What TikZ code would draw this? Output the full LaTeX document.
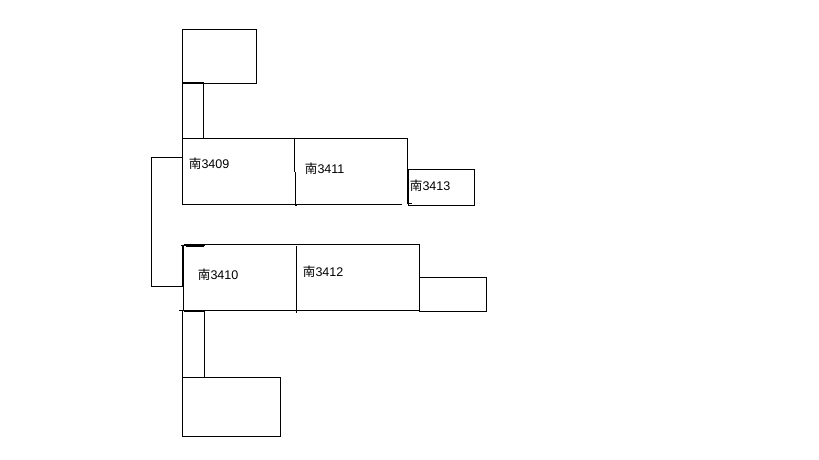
\documentclass[tikz,border=0pt]{standalone}
\usepackage{fontspec}
\setmainfont{Liberation Sans}
\newfontfamily\cjkfont{Noto Sans CJK SC}
\tikzset{
  wall/.style={draw=black,line width=0.75pt},
  heavy/.style={draw=black,line width=1.3pt},
  roomlabel/.style={anchor=west,inner sep=0pt,font=\fontsize{9.4pt}{11pt}\selectfont,text=black}
}
\newcommand{\nan}{{\cjkfont 南}}
\begin{document}
\begin{tikzpicture}[x=0.75pt,y=-0.75pt]
\useasboundingbox (0,0) rectangle (819,460);
\fill[white] (0,0) rectangle (819,460);
% upper wing
\draw[wall] (182.5,29.5) rectangle (256.5,83.5);
\draw[heavy] (182.5,82.7) -- (203.5,82.7);
\draw[wall] (182.5,83) -- (182.5,138.5);
\draw[wall] (203.5,83) -- (203.5,138.5);
\draw[wall] (182.5,205.5) -- (182.5,138.5) -- (407.5,138.5) -- (407.5,203);
\draw[wall] (182.5,204.5) -- (402,204.5);
\draw[wall] (294.5,138.5) -- (294.5,172);
\draw[wall] (295.5,172) -- (295.5,206);
\draw[heavy] (296,204) -- (296,206.5);
\draw[wall] (407,203.5) -- (412,203.5);
\draw[wall] (408.5,169.5) rectangle (474.5,205.5);
\draw[heavy] (408.3,169.5) -- (408.3,204);
% link between the wings
\draw[wall] (182.5,157.5) -- (151.5,157.5) -- (151.5,286.5) -- (183,286.5);
% lower wing
\draw[wall] (183.5,244.5) -- (419.5,244.5) -- (419.5,310.5) -- (179,310.5);
\draw[heavy] (183,245.5) -- (183,286.5);
\draw[wall] (181,245.5) -- (205,245.5);
\draw[wall] (186,246.5) -- (204,246.5);
\draw[wall] (183.5,286) -- (183.5,310.5);
\draw[wall] (296.5,246) -- (296.5,312.5);
\draw[wall] (419.5,277.5) rectangle (486.5,311.5);
\draw[heavy] (184,311) -- (204,311);
\draw[wall] (182.5,311) -- (182.5,377.5);
\draw[wall] (204.5,311) -- (204.5,377.5);
\draw[wall] (182.5,377.5) rectangle (280.5,436.5);
% labels
\node[roomlabel] (r3409) at (188.7,163.5) {\nan 3409};
\node[roomlabel] (r3411) at (304.7,169) {\nan 3411};
\node[roomlabel] (r3413) at (409.7,185.5) {\nan 3413};
\node[roomlabel] (r3410) at (197.7,274.5) {\nan 3410};
\node[roomlabel] (r3412) at (302.7,271.5) {\nan 3412};
\end{tikzpicture}
\end{document}
